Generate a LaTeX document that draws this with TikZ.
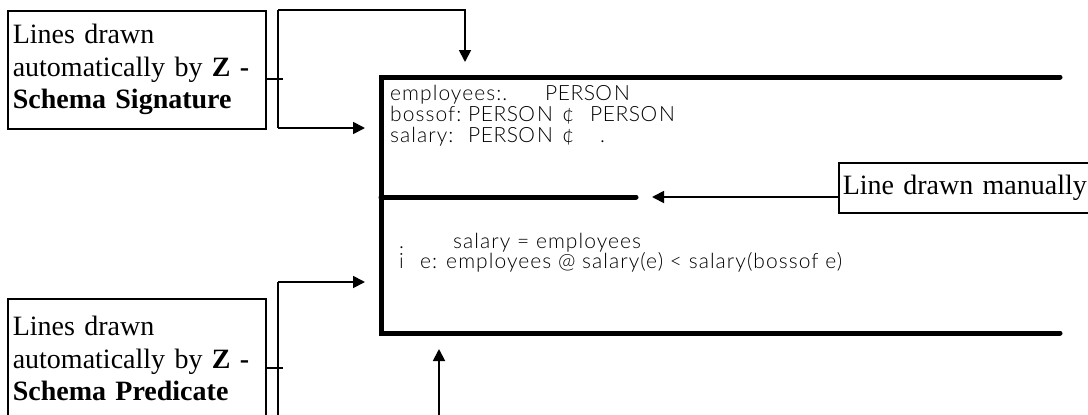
\documentclass[tikz,border=0pt]{standalone}
\usepackage{fontspec}
\setmainfont{Liberation Serif}
\newfontfamily\zfont[Scale=2.1, LetterSpace=5]{Lato Light}
\usetikzlibrary{arrows.meta}
% letter-spaced given-set name as set by the Z font
\newcommand\persontype{P\kern0.5pt E\kern0.5pt R\kern0.5pt S\kern0.5pt O\kern2pt N}
\begin{document}
\begin{tikzpicture}[x=1pt,y=-1pt,
  label box/.style={draw, line width=1.5pt, rectangle, inner xsep=5pt, inner ysep=0pt,
    text width=248pt, align=left, anchor=north west,
    font=\fontsize{28}{32.5}\selectfont},
  link/.style={line width=1.8pt},
  pointer/.style={link, -{Triangle[length=12pt,width=12pt]}},
  schema/.style={line width=5pt, line cap=round, line join=miter},
  ztext/.style={anchor=base west, inner sep=0pt, font=\zfont}]
\useasboundingbox (0,0) rectangle (1088,415);
\clip (0,0) rectangle (1088,415);

% explanatory boxes
\node[label box, minimum height=118pt] (sig) at (7,10)
  {Lines drawn\\automatically by \textbf{Z -}\\\textbf{Schema Signature}};
\node[label box, minimum height=120pt] (pred) at (7,298)
  {Lines drawn\\automatically by \textbf{Z -}\\\textbf{Schema Predicate}};
\node[draw, line width=1.5pt, anchor=west, minimum height=50pt, inner xsep=4pt,
  text width=260pt, align=left, font=\fontsize{28}{32.5}\selectfont] (manual) at (838,188)
  {Line drawn manually};

% schema frame
\coordinate (s-nw) at (381,77);
\coordinate (s-ne) at (1060,77);
\coordinate (s-sw) at (381,333);
\coordinate (s-se) at (1060,333);
\coordinate (s-mid) at (381,197);
\coordinate (s-midend) at (636,197);
\draw[schema] (s-ne) -- (s-nw) -- (s-sw) -- (s-se);
\draw[schema] (s-mid) -- (s-midend);

% signature declarations
\node[ztext] (d1a) at (390,100) {employees:.};
\node[ztext] (d1b) at (545,100) {\persontype};
\node[ztext] (d2a) at (390,121) {bossof:};
\node[ztext] (d2b) at (468,121) {\persontype};
\node[ztext] (d2c) at (562,121) {¢};
\node[ztext] (d2d) at (590,121) {\persontype};
\node[ztext] (d3a) at (390,142) {salary:};
\node[ztext] (d3b) at (468,142) {\persontype};
\node[ztext] (d3c) at (562,142) {¢};
\node[ztext] (d3d) at (600,142) {.};

% predicate
\node[ztext] (p1a) at (399,248) {.};
\node[ztext] (p1b) at (453,248) {salary = employees};
\node[ztext] (p2a) at (399,268) {i};
\node[ztext] (p2b) at (420,268) {e: employees @ salary(e) < salary(bossof e)};

% connectors from the signature box
\coordinate (sbt) at (278,10);
\coordinate (sbb) at (278,128);
\coordinate (sigtip) at (465,62);
\coordinate (sigin) at (365,128);
\draw[link] ([yshift=-9pt]sig.east) -- ++(16,0);
\draw[link] (sbt) -- (sbb);
\draw[pointer] (sbt) -| (sigtip);
\draw[pointer] (sbb) -- (sigin);

% connectors from the predicate box
\coordinate (pbt) at (278,282);
\coordinate (pbb) at (278,430);
\coordinate (predin) at (365,282);
\coordinate (predtip) at (439,349);
\draw[link] ([yshift=-9pt]pred.east) -- ++(16,0);
\draw[link] (pbt) -- (pbb);
\draw[pointer] (pbt) -- (predin);
\draw[pointer] (pbb) -| (predtip);

% manual line pointer
\coordinate (mantip) at (652,197);
\draw[pointer] ([yshift=-9pt]manual.west) -- (mantip);
\end{tikzpicture}
\end{document}
